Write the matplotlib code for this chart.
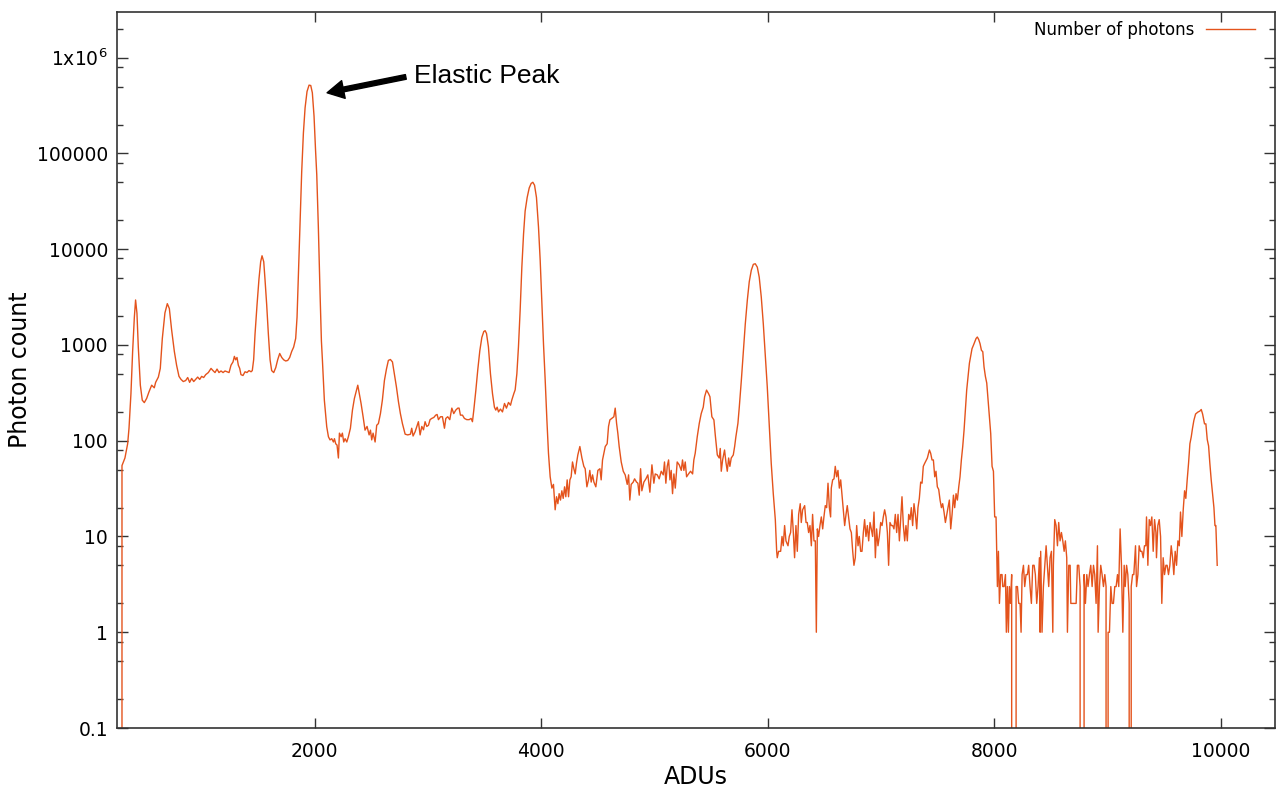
import matplotlib
matplotlib.use("Agg")
import matplotlib.pyplot as plt
import numpy as np
from matplotlib.ticker import FixedLocator, FixedFormatter, NullFormatter

# ---- data ----
adu = [
    290, 300, 326, 350, 362, 379, 394, 409, 420, 432, 444, 462, 479, 497, 518, 538, 562, 585, 597, 621,
    638, 656, 679, 700, 718, 738, 762, 782, 803, 821, 841, 862, 880, 897, 915, 933, 950, 968, 986, 1003,
    1021, 1039, 1062, 1086, 1103, 1121, 1139, 1156, 1174, 1192, 1209, 1227, 1245, 1262, 1280, 1292, 1303,
    1315, 1327, 1339, 1350, 1368, 1386, 1403, 1421, 1439, 1450, 1462, 1474, 1492, 1509, 1524, 1536, 1551,
    1562, 1577, 1592, 1607, 1621, 1639, 1657, 1674, 1692, 1710, 1727, 1745, 1763, 1780, 1798, 1815, 1833,
    1845, 1857, 1871, 1886, 1901, 1916, 1933, 1951, 1966, 1980, 1995, 2008, 2019, 2033, 2048, 2060, 2069,
    2086, 2107, 2122, 2136, 2151, 2166, 2175, 2186, 2198, 2210, 2219, 2234, 2245, 2257, 2269, 2284, 2298,
    2316, 2334, 2351, 2369, 2381, 2392, 2410, 2428, 2445, 2463, 2481, 2493, 2504, 2516, 2534, 2548, 2563,
    2581, 2598, 2616, 2634, 2651, 2669, 2687, 2704, 2722, 2740, 2757, 2775, 2799, 2822, 2846, 2857, 2869,
    2887, 2902, 2916, 2931, 2946, 2961, 2975, 2990, 3005, 3019, 3034, 3052, 3069, 3081, 3093, 3111, 3128,
    3146, 3158, 3175, 3193, 3211, 3228, 3246, 3264, 3275, 3287, 3305, 3322, 3343, 3364, 3381, 3393, 3405,
    3423, 3440, 3458, 3476, 3493, 3505, 3517, 3534, 3552, 3570, 3587, 3599, 3611, 3623, 3640, 3658, 3676,
    3693, 3711, 3729, 3740, 3758, 3770, 3785, 3799, 3814, 3829, 3844, 3858, 3876, 3894, 3911, 3926, 3941,
    3958, 3976, 3991, 4005, 4020, 4035, 4050, 4064, 4079, 4094, 4108, 4123, 4135, 4147, 4158, 4170, 4182,
    4194, 4206, 4217, 4229, 4241, 4253, 4264, 4276, 4288, 4300, 4311, 4323, 4341, 4359, 4376, 4388, 4403,
    4417, 4429, 4441, 4453, 4465, 4482, 4500, 4518, 4529, 4541, 4553, 4565, 4582, 4594, 4606, 4623, 4641,
    4653, 4665, 4676, 4688, 4706, 4724, 4741, 4759, 4771, 4782, 4794, 4812, 4824, 4841, 4853, 4865, 4877,
    4888, 4906, 4924, 4941, 4959, 4977, 4994, 5006, 5024, 5041, 5059, 5077, 5088, 5100, 5112, 5124, 5136,
    5147, 5159, 5171, 5183, 5200, 5218, 5236, 5247, 5259, 5271, 5283, 5300, 5318, 5336, 5347, 5359, 5377,
    5395, 5412, 5430, 5442, 5459, 5477, 5489, 5506, 5524, 5536, 5554, 5571, 5580, 5589, 5601, 5618, 5630,
    5642, 5654, 5665, 5677, 5695, 5707, 5718, 5736, 5748, 5766, 5783, 5801, 5819, 5836, 5854, 5872, 5889,
    5907, 5924, 5942, 5960, 5977, 5995, 6013, 6030, 6048, 6066, 6078, 6083, 6095, 6113, 6125, 6136, 6148,
    6160, 6178, 6189, 6201, 6213, 6225, 6236, 6248, 6260, 6272, 6286, 6295, 6307, 6325, 6337, 6348, 6360,
    6372, 6384, 6395, 6407, 6419, 6428, 6437, 6448, 6460, 6472, 6484, 6495, 6507, 6519, 6531, 6543, 6554,
    6560, 6572, 6584, 6595, 6607, 6619, 6631, 6643, 6654, 6666, 6678, 6690, 6701, 6713, 6725, 6737, 6749,
    6760, 6772, 6784, 6796, 6807, 6819, 6831, 6843, 6854, 6866, 6878, 6890, 6902, 6913, 6925, 6937, 6949,
    6960, 6972, 6984, 6996, 7008, 7019, 7031, 7043, 7055, 7066, 7078, 7090, 7102, 7113, 7125, 7137, 7149,
    7161, 7172, 7184, 7196, 7208, 7219, 7231, 7243, 7255, 7266, 7278, 7290, 7302, 7314, 7325, 7337, 7349,
    7361, 7372, 7384, 7408, 7426, 7437, 7449, 7461, 7473, 7484, 7496, 7508, 7520, 7532, 7543, 7555, 7567,
    7579, 7590, 7602, 7614, 7626, 7638, 7649, 7661, 7673, 7685, 7696, 7708, 7720, 7732, 7744, 7755, 7767,
    7779, 7791, 7802, 7814, 7826, 7838, 7849, 7861, 7873, 7885, 7897, 7908, 7920, 7932, 7944, 7955, 7967,
    7979, 7991, 8002, 8014, 8020, 8026, 8035, 8044, 8055, 8067, 8073, 8085, 8097, 8105, 8114, 8123, 8132,
    8141, 8152, 8161, 8179, 8191, 8203, 8214, 8226, 8235, 8244, 8256, 8267, 8279, 8291, 8302, 8314, 8326,
    8338, 8350, 8361, 8373, 8385, 8397, 8403, 8408, 8420, 8432, 8444, 8456, 8467, 8479, 8491, 8503, 8515,
    8520, 8532, 8544, 8556, 8567, 8579, 8591, 8603, 8615, 8626, 8638, 8644, 8656, 8668, 8674, 8697, 8721,
    8732, 8744, 8756, 8766, 8779, 8791, 8803, 8815, 8826, 8838, 8850, 8862, 8874, 8885, 8897, 8909, 8915,
    8927, 8938, 8950, 8962, 8974, 8985, 8991, 9003, 9015, 9027, 9038, 9050, 9062, 9074, 9086, 9097, 9109,
    9121, 9133, 9145, 9154, 9166, 9177, 9189, 9195, 9207, 9219, 9230, 9245, 9254, 9266, 9277, 9289, 9301,
    9313, 9324, 9336, 9342, 9354, 9366, 9377, 9389, 9401, 9413, 9425, 9430, 9442, 9454, 9466, 9477, 9489,
    9501, 9513, 9524, 9536, 9548, 9560, 9572, 9583, 9595, 9607, 9619, 9631, 9642, 9654, 9666, 9678, 9689,
    9701, 9713, 9725, 9737, 9748, 9760, 9775, 9795, 9813, 9825, 9837, 9854, 9866, 9878, 9890, 9901, 9913,
    9925, 9937, 9946, 9954, 9966,
]

photons = [
    0, 55, 66, 93, 135, 309, 857, 1940, 2950, 2150, 950, 380, 265, 250, 277, 323, 380, 357, 407, 462,
    569, 1170, 2160, 2700, 2400, 1440, 857, 614, 470, 437, 415, 425, 457, 407, 447, 415, 437, 462, 437, 470,
    457, 490, 515, 569, 540, 515, 560, 515, 535, 515, 535, 525, 515, 614, 666, 760, 700,
    740, 614, 569, 490, 480, 525, 515, 540, 525, 540, 700, 1290, 2640, 4880, 7400, 8540, 7400,
    4880, 2640, 1290, 700, 540, 515, 580, 700, 815, 740, 700, 680, 690, 740, 857, 950, 1170,
    1950, 5450, 18700, 64000, 163000, 300000, 443000, 517000, 512000, 430000, 245000, 110000, 60000, 17000, 3470, 1100, 690,
    265, 140, 110, 102, 105, 97, 105, 93, 90, 66, 120, 110, 120, 97, 105, 97, 110,
    135, 209, 276, 336, 380, 323, 245, 178, 129, 141, 115, 129, 102, 120, 97, 145, 151,
    192, 265, 425, 560, 690, 705, 665, 500, 365, 255, 192, 151, 117, 115, 117, 135, 112,
    124, 141, 158, 115, 141, 130, 158, 141, 145, 166, 171, 175, 185, 188, 166, 178, 178,
    135, 171, 178, 166, 219, 192, 209, 219, 219, 185, 185, 171, 166, 166, 171, 158, 209,
    336, 550, 870, 1200, 1380, 1410, 1320, 955, 500, 310, 224, 209, 224, 200, 214, 200, 245,
    219, 251, 235, 265, 310, 340, 500, 950, 2300, 6500, 14400, 25000, 34700, 43600, 48600, 50000, 46600,
    34700, 17000, 7600, 2940, 1030, 430, 165, 74, 42, 32, 35, 19, 26, 22, 28, 24, 30,
    25, 33, 26, 39, 26, 39, 42, 60, 51, 45, 58, 71, 87, 66, 54, 51, 33,
    39, 49, 37, 44, 37, 33, 49, 51, 39, 63, 74, 87, 93, 141, 165, 171, 178,
    219, 152, 120, 87, 60, 48, 44, 35, 44, 24, 35, 37, 40, 37, 36, 27, 51,
    30, 37, 40, 44, 29, 56, 36, 45, 44, 40, 48, 44, 60, 36, 54, 63, 39,
    49, 28, 45, 32, 60, 56, 49, 63, 49, 60, 42, 45, 48, 45, 63, 74, 110,
    152, 192, 224, 288, 338, 310, 288, 178, 165, 115, 71, 66, 83, 48, 63, 80, 60,
    48, 66, 54, 66, 71, 87, 110, 152, 224, 425, 810, 1660, 2940, 4570, 6030, 6950, 7050,
    6500, 5100, 3170, 1660, 810, 365, 140, 58, 28, 15, 7, 6, 7, 7, 10, 8, 13,
    9, 8, 10, 11, 19, 11, 6, 13, 7, 17, 22, 14, 19, 21, 14, 14, 11,
    13, 8, 17, 9, 9, 1, 12, 10, 13, 16, 12, 16, 21, 20, 36, 20, 16,
    32, 39, 40, 54, 42, 49, 32, 39, 28, 19, 13, 17, 21, 16, 12, 11, 7,
    5, 6, 13, 8, 10, 7, 7, 11, 15, 10, 13, 9, 14, 12, 10, 18, 6,
    12, 8, 10, 14, 13, 16, 19, 16, 11, 5, 14, 13, 13, 12, 17, 11, 17,
    9, 15, 26, 13, 9, 13, 9, 17, 15, 20, 13, 22, 17, 12, 20, 25, 37,
    36, 54, 58, 66, 80, 74, 63, 63, 42, 48, 33, 31, 24, 20, 22, 18, 14,
    17, 20, 24, 12, 17, 27, 20, 28, 24, 33, 42, 63, 87, 130, 210, 338, 470,
    645, 780, 915, 990, 1080, 1170, 1210, 1140, 1030, 880, 850, 590, 470, 400, 265, 178, 119,
    54, 48, 16, 16, 7, 3, 7, 2, 4, 4, 3, 3, 4, 1, 3, 1, 3,
    2, 4, 0, 0, 3, 3, 2, 2, 1, 4, 5, 3, 4, 4, 5, 3, 2,
    5, 5, 4, 2, 3, 6, 1, 7, 1, 3, 5, 8, 5, 3, 6, 7, 1,
    5, 15, 13, 8, 14, 9, 11, 9, 7, 9, 6, 1, 5, 5, 2, 2, 2,
    5, 5, 3, 0, 0, 4, 2, 4, 3, 4, 5, 3, 5, 4, 2, 8, 1,
    3, 5, 4, 3, 4, 3, 0, 1, 1, 3, 2, 2, 3, 3, 4, 3, 12,
    5, 1, 5, 3, 5, 4, 2, 0, 3, 4, 4, 8, 3, 4, 8, 7, 7,
    6, 8, 8, 16, 5, 15, 13, 16, 7, 15, 11, 6, 13, 15, 10, 2, 6,
    4, 5, 5, 4, 5, 8, 6, 4, 7, 5, 9, 8, 18, 10, 19, 30, 25,
    39, 58, 93, 110, 135, 163, 190, 199, 204, 212, 190, 150, 150, 103, 88, 58, 39,
    28, 20, 13, 13, 5,
]

x_ticks = [2000, 4000, 6000, 8000, 10000]
x_tick_labels = ["2000", "4000", "6000", "8000", "10000"]
y_ticks = [0.1, 1, 10, 100, 1000, 10000, 100000, 1e6]
y_tick_labels = ["0.1", "1", "10", "100", "1000", "10000", "100000", r"1x10$^{6}$"]

line_color = "#E4531C"
axis_color = "#333333"

fig = plt.figure(figsize=(12.77, 7.89), dpi=100)
ax = fig.add_axes([117 / 1277, 61 / 789, 1158 / 1277, 716 / 789])

ax.plot(adu, photons, color=line_color, lw=1.0, label="Number of photons")

ax.set_yscale("log", nonpositive="clip")
ax.set_xlim(256, 10476)
ax.set_ylim(0.1, 3e6)

ax.xaxis.set_major_locator(FixedLocator(x_ticks))
ax.xaxis.set_major_formatter(FixedFormatter(x_tick_labels))
ax.xaxis.set_minor_locator(FixedLocator([]))
ax.yaxis.set_major_locator(FixedLocator(y_ticks))
ax.yaxis.set_major_formatter(FixedFormatter(y_tick_labels))
minor = [m * 10.0 ** e for e in range(-1, 7) for m in (2, 5, 8)]
ax.yaxis.set_minor_locator(FixedLocator(minor))
ax.yaxis.set_minor_formatter(NullFormatter())

for s in ax.spines.values():
    s.set_color(axis_color)
    s.set_linewidth(1.2)

ax.tick_params(axis="both", which="both", direction="in", top=True, right=True,
               colors=axis_color, labelcolor="black", width=1.0)
ax.tick_params(axis="y", which="major", length=8, pad=6.5, labelsize=13.5)
ax.tick_params(axis="y", which="minor", length=4.5)
ax.tick_params(axis="x", which="major", length=7, pad=10, labelsize=13.5)

ax.set_xlabel("ADUs", fontsize=17)
ax.xaxis.set_label_coords(0.5, -0.0685)
ax.xaxis.label.set_va("center")
ax.set_ylabel("Photon count", fontsize=17)
ax.yaxis.set_label_coords(-0.0838, 0.5)
ax.yaxis.label.set_va("center")

ax.legend(loc="upper right", bbox_to_anchor=(0.9827, 0.987), frameon=False,
          markerfirst=False, fontsize=12, handlelength=2.95, handletextpad=0.7,
          borderpad=0, borderaxespad=0)

# annotation arrow + text
ax.annotate("", xy=(2110, 4.3e5), xytext=(2805, 6.3e5),
            arrowprops=dict(arrowstyle="simple,head_length=0.6,head_width=0.65,tail_width=0.17",
                            color="black", mutation_scale=20, shrinkA=0, shrinkB=0))
ax.text(2875, 6.5e5, "Elastic Peak", fontsize=19, family=["Liberation Sans", "DejaVu Sans"],
        ha="left", va="center", color="black")

fig.savefig("out.png", dpi=100)
